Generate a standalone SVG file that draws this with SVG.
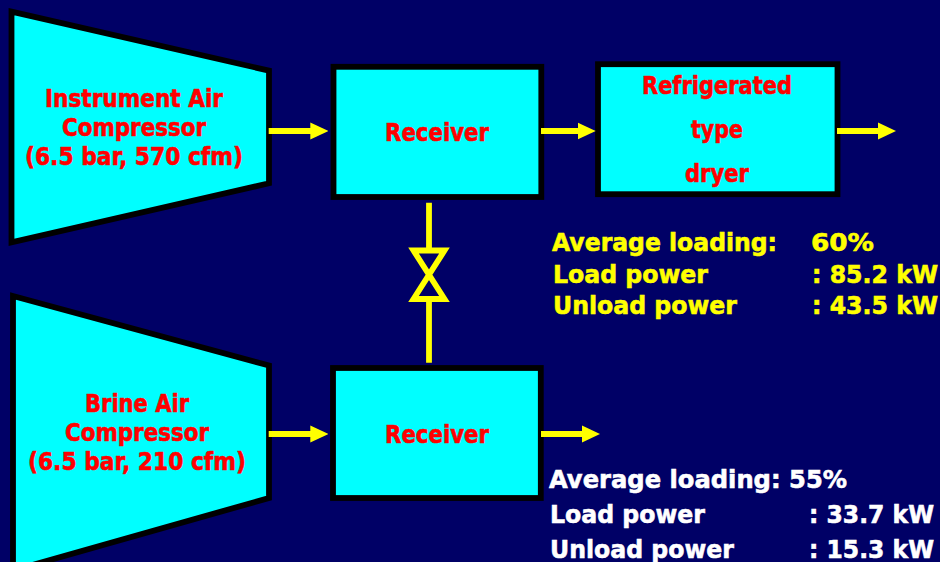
<svg xmlns="http://www.w3.org/2000/svg" width="940" height="562" viewBox="0 0 940 562">
<defs><marker id="arr" markerUnits="userSpaceOnUse" markerWidth="18" markerHeight="18" refX="9" refY="9" orient="auto"><path d="M0,0.5 L18,9 L0,17.5 Z" fill="#ff0"/></marker></defs>
<style>
.s{fill:#0ff;stroke:#000;stroke-width:5.8}
text{font-family:"DejaVu Sans",sans-serif;font-weight:700}
.l{font-size:24.5px;fill:#f00;stroke:#f00;stroke-width:.6}
.y{font-size:25.5px;fill:#ff0;stroke:#ff0;stroke-width:.6}
.w{font-size:25.5px;fill:#fff;stroke:#fff;stroke-width:.6}
.c{fill:none;stroke:#ff0;stroke-width:5.8}
</style>
<rect width="940" height="562" fill="#000066"/>
<g id="compressor1"><path class="s" d="M11.5,11.7 L269,70.6 V183.3 L11.5,242.3 Z"/><text class="l" x="45" y="107" textLength="178" lengthAdjust="spacingAndGlyphs">Instrument Air</text><text class="l" x="62" y="136" textLength="144" lengthAdjust="spacingAndGlyphs">Compressor</text><text class="l" x="25" y="165" textLength="218" lengthAdjust="spacingAndGlyphs">(6.5 bar, 570 cfm)</text></g>
<g id="compressor2"><path class="s" d="M13,296 L269,365.5 V498 L13,570.5 Z"/><text class="l" x="85" y="412" textLength="104" lengthAdjust="spacingAndGlyphs">Brine Air</text><text class="l" x="65" y="441" textLength="144" lengthAdjust="spacingAndGlyphs">Compressor</text><text class="l" x="28" y="470" textLength="218" lengthAdjust="spacingAndGlyphs">(6.5 bar, 210 cfm)</text></g>
<g id="receiver1"><rect class="s" x="333.5" y="66.8" width="207.8" height="130.2"/><text class="l" x="385" y="141" textLength="104" lengthAdjust="spacingAndGlyphs">Receiver</text></g>
<g id="receiver2"><rect class="s" x="333" y="368" width="207.8" height="130"/><text class="l" x="385" y="443" textLength="104" lengthAdjust="spacingAndGlyphs">Receiver</text></g>
<g id="dryer"><rect class="s" x="598" y="64.2" width="239.5" height="130"/><text class="l" x="642" y="94" textLength="150" lengthAdjust="spacingAndGlyphs">Refrigerated</text><text class="l" x="691" y="138" textLength="52" lengthAdjust="spacingAndGlyphs">type</text><text class="l" x="685" y="182" textLength="64" lengthAdjust="spacingAndGlyphs">dryer</text></g>
<g id="connectors">
<path class="c" marker-end="url(#arr)" d="M268.7,131 H319.3"/>
<path class="c" marker-end="url(#arr)" d="M541,131 H586.7"/>
<path class="c" marker-end="url(#arr)" d="M837,131 H887"/>
<path class="c" marker-end="url(#arr)" d="M268.7,434 H319.3"/>
<path class="c" marker-end="url(#arr)" d="M541,434 H591"/>
<path class="c" d="M429,202.7 V250 M429,300 V362.7"/>
<path class="c" d="M413.5,250.5 H444.5 L413.5,299 H444.5 Z"/>
</g>
<g id="stats1"><text class="y" x="552" y="250.5" textLength="225" lengthAdjust="spacingAndGlyphs">Average loading:</text><text class="y" x="811" y="250.5" textLength="63" lengthAdjust="spacingAndGlyphs">60%</text><text class="y" x="553" y="282.5" textLength="155" lengthAdjust="spacingAndGlyphs">Load power</text><text class="y" x="812" y="282.5" textLength="126" lengthAdjust="spacingAndGlyphs">: 85.2 kW</text><text class="y" x="553" y="314" textLength="184" lengthAdjust="spacingAndGlyphs">Unload power</text><text class="y" x="812" y="314" textLength="126" lengthAdjust="spacingAndGlyphs">: 43.5 kW</text></g>
<g id="stats2"><text class="w" x="549" y="488" textLength="298" lengthAdjust="spacingAndGlyphs">Average loading: 55%</text><text class="w" x="550" y="523" textLength="155" lengthAdjust="spacingAndGlyphs">Load power</text><text class="w" x="809" y="523" textLength="125" lengthAdjust="spacingAndGlyphs">: 33.7 kW</text><text class="w" x="550" y="558" textLength="184" lengthAdjust="spacingAndGlyphs">Unload power</text><text class="w" x="809" y="558" textLength="125" lengthAdjust="spacingAndGlyphs">: 15.3 kW</text></g>
</svg>
